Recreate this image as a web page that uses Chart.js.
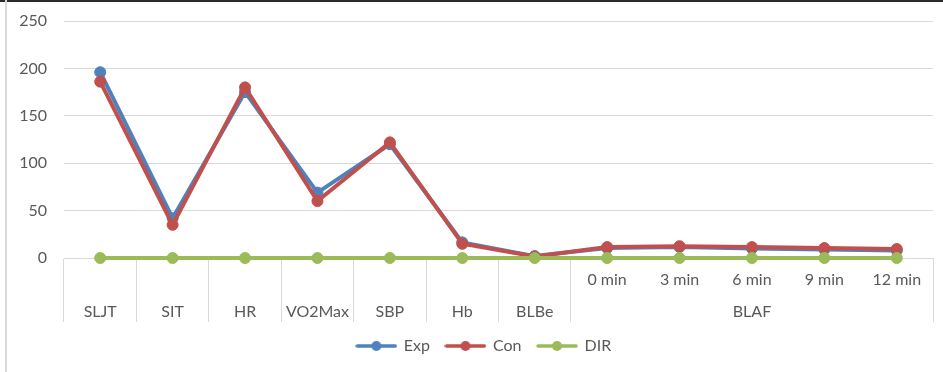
<!DOCTYPE html>
<html>
<head>
<meta charset="utf-8">
<script src="https://cdn.jsdelivr.net/npm/chart.js@4"></script>
<style>
  html, body { margin: 0; padding: 0; background: #fff; }
  #wrap { position: relative; width: 943px; height: 372px; }
  #frameTop { position: absolute; left: 0; top: 0; width: 943px; height: 2px; background: #2b2b2b; }
  #frameLeft { position: absolute; left: 5px; top: 0; width: 2px; height: 372px; background: #d9d9d9; }
  canvas { position: absolute; left: 0; top: 0; }
</style>
</head>
<body>
<div id="wrap">
  <canvas id="chart" width="943" height="372"></canvas>
  <div id="frameTop"></div>
  <div id="frameLeft"></div>
</div>
<script>
// Measures, grouped BLAF time points, and series values
const categories = ['SLJT', 'SIT', 'HR', 'VO2Max', 'SBP', 'Hb', 'BLBe'];
const blafTimes = ['0 min', '3 min', '6 min', '9 min', '12 min'];
const blafGroup = 'BLAF';
const expValues = [196, 42, 175, 69, 120, 16.5, 2, 10.5, 11.5, 10, 9, 8];
const conValues = [186, 35, 180, 60, 122, 15, 1.5, 11.5, 12.5, 11.5, 10.5, 9.5];
const dirValues = [0, 0, 0, 0, 0, 0, 0, 0, 0, 0, 0, 0];
const yTicks = [0, 50, 100, 150, 200, 250];

const seriesNames = ['Exp', 'Con', 'DIR'];
const seriesColors = ['#4F81BD', '#C0504D', '#9BBB59'];

// Two-row category labels: sub-category on the first row, group name on the second
const middleTime = Math.floor(blafTimes.length / 2);
const labels = categories.map(c => ['', c]).concat(
  blafTimes.map((t, i) => [t, i === middleTime ? blafGroup : ''])
);
// Separators hidden between the BLAF sub-categories
const firstGroupIndex = categories.length;
const lastIndex = labels.length;

const textColor = '#595959';
const gridColor = '#D9D9D9';
const fontFamily = 'Lato, "Open Sans", sans-serif';
const fontSize = 16;

// Legend swatch: short line with a dot in the middle
function legendSwatch(color) {
  const c = document.createElement('canvas');
  c.width = 42; c.height = 12;
  const g = c.getContext('2d');
  g.strokeStyle = color; g.lineWidth = 3.5; g.lineCap = 'round';
  g.beginPath(); g.moveTo(2, 6); g.lineTo(40, 6); g.stroke();
  g.fillStyle = color;
  g.beginPath(); g.arc(21, 6, 5, 0, Math.PI * 2); g.fill();
  return c;
}
const swatches = seriesColors.map(legendSwatch);

const seriesData = [expValues, conValues, dirValues];
const datasets = seriesNames.map((name, i) => ({
  label: name,
  data: seriesData[i],
  borderColor: seriesColors[i],
  backgroundColor: seriesColors[i],
  pointBackgroundColor: seriesColors[i],
  pointBorderColor: seriesColors[i],
  borderWidth: 4,
  pointRadius: 5.5,
  pointBorderWidth: 1,
  tension: 0,
  clip: false,
  order: seriesNames.length - 1 - i
}));

// Centre the legend row under the plot area rather than the whole canvas
const legendShift = {
  id: 'legendShift',
  afterLayout(chart) {
    const lg = chart.legend;
    if (!lg) return;
    lg.left = chart.chartArea.left - 29;
    if (lg.adjustHitBoxes) lg.adjustHitBoxes();
  }
};

new Chart(document.getElementById('chart'), {
  type: 'line',
  data: { labels, datasets },
  plugins: [legendShift],
  options: {
    responsive: false,
    animation: false,
    layout: { padding: { left: 0, right: 10, top: 21, bottom: 8 } },
    scales: {
      x: {
        offset: true,
        grid: {
          offset: true,
          drawOnChartArea: false,
          drawTicks: true,
          tickLength: 64,
          lineWidth: 1,
          color: ctx => {
            const idx = ctx.index;
            if (idx > firstGroupIndex && idx < lastIndex) return 'rgba(0,0,0,0)';
            return gridColor;
          }
        },
        border: { display: true, color: gridColor, width: 1 },
        ticks: {
          autoSkip: false,
          maxRotation: 0,
          minRotation: 0,
          padding: -58,
          color: textColor,
          font: { family: fontFamily, size: fontSize, lineHeight: 2.0 }
        },
        afterFit: scale => { scale.height = 64; scale.paddingLeft = 0; scale.paddingRight = 0; }
      },
      y: {
        min: 0,
        max: 250,
        afterBuildTicks: scale => { scale.ticks = yTicks.map(v => ({ value: v })); },
        grid: { color: gridColor, drawTicks: false, lineWidth: 1 },
        border: { display: false },
        ticks: {
          padding: 17,
          color: textColor,
          font: { family: fontFamily, size: fontSize }
        },
        afterFit: scale => { scale.width = 64; scale.paddingTop = 0; scale.paddingBottom = 0; }
      }
    },
    plugins: {
      tooltip: { enabled: false },
      legend: {
        position: 'bottom',
        labels: {
          usePointStyle: true,
          pointStyleWidth: 39,
          padding: 16,
          color: textColor,
          font: { family: fontFamily, size: fontSize },
          sort: (a, b) => a.datasetIndex - b.datasetIndex,
          generateLabels: chart => chart.data.datasets.map((ds, i) => ({
            text: ds.label,
            fillStyle: ds.borderColor,
            strokeStyle: ds.borderColor,
            fontColor: textColor,
            lineWidth: 0,
            pointStyle: swatches[i],
            hidden: false,
            datasetIndex: i
          }))
        }
      }
    }
  }
});
</script>
</body>
</html>
